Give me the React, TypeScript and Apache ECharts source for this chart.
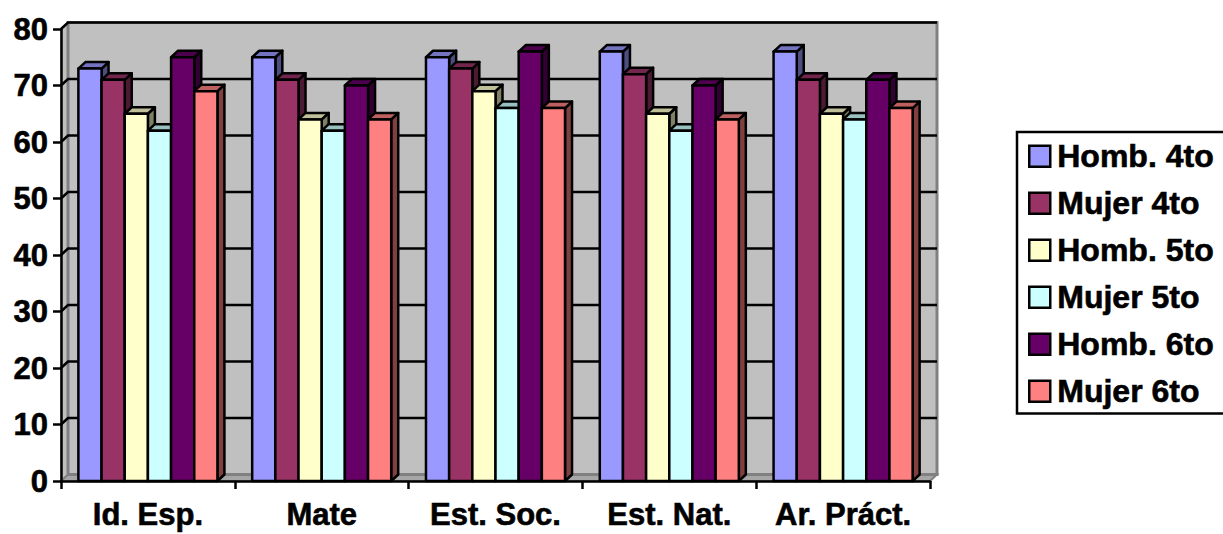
import React, { useEffect, useRef } from "react";
import * as echarts from "echarts";

const categories = ["Id. Esp.", "Mate", "Est. Soc.", "Est. Nat.", "Ar. Práct."];
const seriesNames = ["Homb. 4to", "Mujer 4to", "Homb. 5to", "Mujer 5to", "Homb. 6to", "Mujer 6to"];
const homb4 = [73, 75, 75, 76, 76];
const mujer4 = [71, 71, 73, 72, 71];
const homb5 = [65, 64, 69, 65, 65];
const mujer5 = [62, 62, 66, 62, 64];
const homb6 = [75, 70, 76, 70, 71];
const mujer6 = [69, 64, 66, 64, 66];
const seriesValues = [homb4, mujer4, homb5, mujer5, homb6, mujer6];
const colors = ["#9999FF", "#993366", "#FFFFCC", "#CCFFFF", "#660066", "#FF8080"];
const topColors = ["#7373BF", "#73264D", "#BFBF99", "#99BFBF", "#4D004D", "#BF6060"];
const sideColors = ["#4D4D80", "#4D1A33", "#808066", "#668080", "#330033", "#804040"];
const gridValues = [10, 20, 30, 40, 50, 60, 70, 80];

const DX = 7;
const DY = 6.5;

export default function App() {
  const ref = useRef<HTMLDivElement>(null);
  useEffect(() => {
    const chart = echarts.init(ref.current!, undefined, { renderer: "svg" });
    const font = "'Liberation Sans', Arial, sans-serif";
    const heavy = { textBorderColor: "#000", textBorderWidth: 0.6 };
    const wallSeries: any = {
      type: "custom",
      name: "__walls",
      silent: true,
      z: 1,
      data: [0],
      renderItem: (params: any) => {
        const c = params.coordSys;
        const l = c.x, r = c.x + c.width, t = c.y, b = c.y + c.height;
        return {
          type: "group",
          children: [
            { type: "polygon", shape: { points: [[l, t], [l + DX, t - DY], [l + DX, b - DY], [l, b]] }, style: { fill: "#C0C0C0", stroke: "#808080", lineWidth: 1 } },
            { type: "polygon", shape: { points: [[l, b], [l + DX, b - DY], [r + DX, b - DY], [r, b]] }, style: { fill: "#A6A6A6", stroke: "#808080", lineWidth: 2 } },
            { type: "rect", shape: { x: l + DX, y: t - DY, width: c.width, height: c.height }, style: { fill: "#C0C0C0", stroke: "#808080", lineWidth: 3 } },
          ],
        };
      },
    };
    const gridSeries: any = {
      type: "custom",
      name: "__grid",
      silent: true,
      z: 2,
      data: gridValues.map((v) => [0, v]),
      encode: { x: 0, y: 1 },
      renderItem: (params: any, api: any) => {
        const c = params.coordSys;
        const y = api.coord([0, api.value(1)])[1];
        const l = c.x, r = c.x + c.width;
        return {
          type: "polyline",
          shape: { points: [[l, y], [l + DX, y - DY], [r + DX, y - DY]] },
          style: { fill: "none", stroke: "#000", lineWidth: 2.5 },
        };
      },
    };
    const barSeries: any[] = seriesNames.map((name, s) => ({
      type: "custom",
      name,
      z: 3,
      silent: true,
      itemStyle: { color: colors[s], borderColor: "#000", borderWidth: 2.5 },
      data: seriesValues[s].map((v, i) => [i, v]),
      encode: { x: 0, y: 1 },
      renderItem: (_p: any, api: any) => {
        const cat = api.value(0);
        const [cx, yTop] = api.coord([cat, api.value(1)]);
        const yBase = api.coord([cat, 0])[1];
        const bw = api.size([1, 0])[0] / 7.5;
        const x0 = cx - 3 * bw + s * bw;
        const x1 = x0 + bw;
        const border = { stroke: "#000", lineWidth: 2.5, lineJoin: "round" };
        return {
          type: "group",
          children: [
            { type: "polygon", shape: { points: [[x1, yBase], [x1 + DX, yBase - DY], [x1 + DX, yTop - DY], [x1, yTop]] }, style: { fill: sideColors[s], ...border } },
            { type: "polygon", shape: { points: [[x0, yTop], [x0 + DX, yTop - DY], [x1 + DX, yTop - DY], [x1, yTop]] }, style: { fill: topColors[s], ...border } },
            { type: "rect", shape: { x: x0, y: yTop, width: bw, height: yBase - yTop }, style: { fill: colors[s], ...border } },
          ],
        };
      },
    }));
    chart.setOption({
      animation: false,
      backgroundColor: "#fff",
      grid: { left: 61, top: 29, width: 869, height: 452, containLabel: false },
      xAxis: {
        type: "category",
        data: categories,
        z: 5,
        axisLine: { show: true, lineStyle: { color: "#000", width: 2.5 } },
        axisTick: { show: true, alignWithLabel: false, length: 8, lineStyle: { color: "#000", width: 2.5 } },
        axisLabel: { color: "#000", fontFamily: font, fontWeight: "bold", fontSize: 31, margin: 18, interval: 0, ...heavy },
        splitLine: { show: false },
      },
      yAxis: {
        type: "value",
        min: 0,
        max: 80,
        interval: 10,
        z: 5,
        axisLine: { show: true, lineStyle: { color: "#000", width: 2.5 } },
        axisTick: { show: true, length: 8, lineStyle: { color: "#000", width: 2.5 } },
        axisLabel: { color: "#000", fontFamily: font, fontWeight: "bold", fontSize: 31, margin: 13, ...heavy },
        splitLine: { show: false },
      },
      legend: {
        data: seriesNames,
        orient: "vertical",
        left: 1017,
        top: 132,
        icon: "rect",
        selectedMode: false,
        itemWidth: 21,
        itemHeight: 21,
        itemGap: 14.4,
        padding: [8, 13, 6, 11],
        backgroundColor: "#fff",
        borderColor: "#000",
        borderWidth: 2.5,
        borderRadius: 0,
        itemStyle: { borderColor: "#000", borderWidth: 2.5 },
        textStyle: { color: "#000", fontFamily: font, fontWeight: "bold", fontSize: 32, padding: [0, 0, 0, 2], ...heavy },
      },
      series: [wallSeries, gridSeries, ...barSeries],
    });
    return () => chart.dispose();
  }, []);
  return <div ref={ref} style={{ position: "absolute", left: 0, top: 0, width: 1223, height: 534, overflow: "hidden" }} />;
}
